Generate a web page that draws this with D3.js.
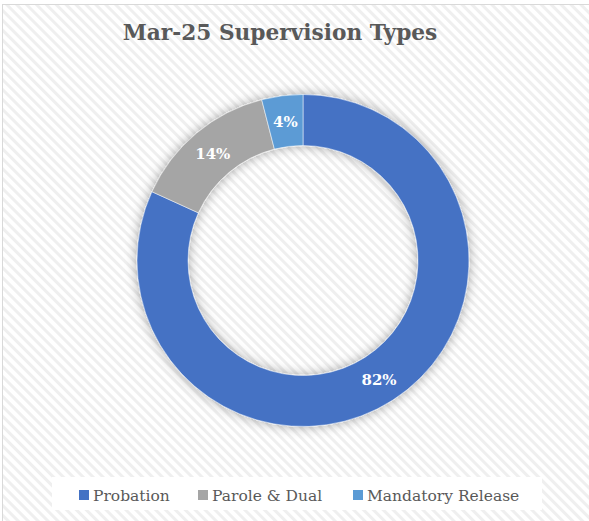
<!DOCTYPE html>
<html lang="en">
<head>
    <meta charset="UTF-8">
    <title>Mar-25 Supervision Types</title>
    <style>
        body { margin: 0; background: #fff; }
        svg { display: block; }
    </style>
</head>
<body>
<svg height="521" width="589"></svg>

<script src="https://d3js.org/d3.v7.min.js"></script>
<script>

    // chart data
    var categories = ["Probation", "Parole & Dual", "Mandatory Release"];
    var shares = [81.8, 14.2, 4.0];
    var pctLabels = ["82%", "14%", "4%"];
    var colours = ["#4472c4", "#a5a5a5", "#5b9bd5"];
    var chartTitle = "Mar-25 Supervision Types";

    var svg = d3.select("svg");
    var serif = "'DejaVu Serif', 'Liberation Serif', serif";

    var defs = svg.append("defs");

    // light diagonal hatch of the chart area
    var hatch = defs.append("pattern")
        .attr("id", "hatch")
        .attr("patternUnits", "userSpaceOnUse")
        .attr("width", 7)
        .attr("height", 7)
        .attr("patternTransform", "rotate(-45)");
    hatch.append("rect").attr("width", 7).attr("height", 7).attr("fill", "#ffffff");
    hatch.append("rect").attr("width", 3).attr("height", 7).attr("fill", "#efefef");

    var shadow = defs.append("filter")
        .attr("id", "glow")
        .attr("x", "-20%").attr("y", "-20%")
        .attr("width", "140%").attr("height", "140%");
    shadow.append("feDropShadow")
        .attr("dx", 0).attr("dy", 0)
        .attr("stdDeviation", 6)
        .attr("flood-color", "#000")
        .attr("flood-opacity", 0.35);

    // frame
    svg.append("rect")
        .attr("x", 2.5).attr("y", 4.5)
        .attr("width", 600).attr("height", 530)
        .attr("fill", "url(#hatch)")
        .attr("stroke", "#d9d9d9")
        .attr("stroke-width", 1);

    svg.append("text")
        .attr("x", 280)
        .attr("y", 40)
        .attr("text-anchor", "middle")
        .style("font-family", serif)
        .style("font-weight", "bold")
        .style("font-size", "21.7px")
        .style("fill", "#595959")
        .text(chartTitle);

    var cx = 303, cy = 260.5;
    var outerR = 166, innerR = 115;

    var pie = d3.pie().sort(null).value(function(d) { return d; });
    var arcs = pie(shares);

    var arc = d3.arc().innerRadius(innerR).outerRadius(outerR);

    var donut = svg.append("g")
        .attr("transform", "translate(" + cx + "," + cy + ")");

    donut.append("g")
        .attr("filter", "url(#glow)")
        .selectAll("path")
        .data(arcs)
        .enter()
        .append("path")
        .attr("d", arc)
        .attr("fill", function(d, i) { return colours[i]; })
        .attr("stroke", "#ffffff")
        .attr("stroke-width", 0.5);

    donut.selectAll(".lbl")
        .data(arcs)
        .enter()
        .append("text")
        .attr("class", "lbl")
        .attr("transform", function(d) { return "translate(" + arc.centroid(d) + ")"; })
        .attr("text-anchor", "middle")
        .attr("dy", "0.4em")
        .style("font-family", serif)
        .style("font-weight", "bold")
        .style("font-size", "15px")
        .style("fill", "#ffffff")
        .text(function(d, i) { return pctLabels[i]; });

    // legend
    svg.append("rect")
        .attr("x", 52).attr("y", 477)
        .attr("width", 490).attr("height", 33)
        .attr("fill", "#ffffff");

    var legendX = [79, 198, 353];
    var legend = svg.selectAll(".legend")
        .data(categories)
        .enter()
        .append("g")
        .attr("class", "legend")
        .attr("transform", function(d, i) { return "translate(" + legendX[i] + ",490)"; });

    legend.append("rect")
        .attr("width", 10).attr("height", 10)
        .attr("fill", function(d, i) { return colours[i]; });

    legend.append("text")
        .attr("x", 14)
        .attr("y", 10.5)
        .style("font-family", serif)
        .style("font-size", "15.5px")
        .style("fill", "#595959")
        .text(function(d) { return d; });

</script>
</body>
</html>
